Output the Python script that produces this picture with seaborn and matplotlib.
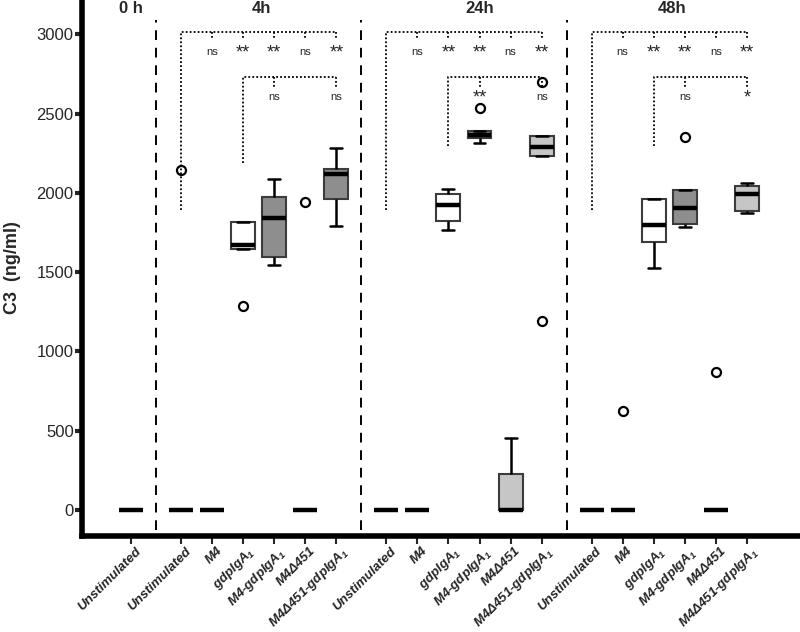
import pandas as pd
import numpy as np
import matplotlib
matplotlib.use('Agg')
import matplotlib.pyplot as plt
import matplotlib.transforms as mtransforms
import seaborn as sns

sns.set_style('white')
plt.rcParams['font.family'] = ['Liberation Sans', 'DejaVu Sans']
plt.rcParams['mathtext.fontset'] = 'custom'
plt.rcParams['mathtext.rm'] = 'Liberation Sans:bold:italic'
plt.rcParams['mathtext.it'] = 'Liberation Sans:bold:italic'
plt.rcParams['mathtext.bf'] = 'Liberation Sans:bold:italic'

#%% data (ng/ml), one list per box
timepoints = ['0 h', '4h', '24h', '48h']
conditions = ['Unstimulated', 'M4', 'gdpIgA$_1$', 'M4-gdpIgA$_1$', 'M4\u0394451', 'M4\u0394451-gdpIgA$_1$']

unstim_0h = [0, 0, 0, 0, 0]

unstim_4h = [0, 0, 0, 0, 2144]
m4_4h = [0, 0, 0, 0, 0]
gdp_4h = [1286, 1644, 1671, 1814, 1814]
m4gdp_4h = [1545, 1593, 1843, 1975, 2087]
d451_4h = [0, 0, 0, 0, 1942]
d451gdp_4h = [1791, 1961, 2121, 2148, 2282]

unstim_24h = [0, 0, 0, 0, 0]
m4_24h = [0, 0, 0, 0, 0]
gdp_24h = [1767, 1820, 1921, 1990, 2026]
m4gdp_24h = [2316, 2345, 2364, 2390, 2533]
d451_24h = [0, 0, 0, 227, 454]
d451gdp_24h = [1192, 2232, 2289, 2360, 2698]

unstim_48h = [0, 0, 0, 0, 0]
m4_48h = [0, 0, 0, 0, 624]
gdp_48h = [1528, 1692, 1797, 1963, 1963]
m4gdp_48h = [1786, 1803, 1904, 2018, 2354]
d451_48h = [0, 0, 0, 0, 872]
d451gdp_48h = [1875, 1887, 1990, 2041, 2060]

boxes = {
    '0 h': [unstim_0h],
    '4h': [unstim_4h, m4_4h, gdp_4h, m4gdp_4h, d451_4h, d451gdp_4h],
    '24h': [unstim_24h, m4_24h, gdp_24h, m4gdp_24h, d451_24h, d451gdp_24h],
    '48h': [unstim_48h, m4_48h, gdp_48h, m4gdp_48h, d451_48h, d451gdp_48h],
}

# significance vs Unstimulated (upper bracket) and vs gdpIgA1 (lower bracket)
sig_upper = {'4h': ['ns', '**', '**', 'ns', '**'],
             '24h': ['ns', '**', '**', 'ns', '**'],
             '48h': ['ns', '**', '**', 'ns', '**']}
sig_lower = {'4h': ['ns', 'ns'], '24h': ['**', 'ns'], '48h': ['ns', '*']}
lower_start = {'4h': 2188, '24h': 2296, '48h': 2296}

WHITE, DARK, LIGHT = '#ffffff', '#8e8e8e', '#c6c6c6'
fills = {'4h': [WHITE, WHITE, WHITE, DARK, LIGHT, DARK],
         '24h': [WHITE, WHITE, WHITE, DARK, LIGHT, LIGHT],
         '48h': [WHITE, WHITE, WHITE, DARK, LIGHT, LIGHT]}

#%% build long table with positions (gap between time points)
gap = 1.6
rows = []
xpos, xlab, palette, group_pos = [], [], {}, {}
start = 0.0
for tp in timepoints:
    group_pos[tp] = []
    for k, vals in enumerate(boxes[tp]):
        p = round(start + k, 2)
        key = f'{tp}|{k}'
        xpos.append(p)
        xlab.append(conditions[k])
        group_pos[tp].append(p)
        palette[key] = WHITE if tp == '0 h' else fills[tp][k]
        for v in vals:
            rows.append({'pos': p, 'C3': v, 'key': key})
    start = start + len(boxes[tp]) - 1 + gap
df = pd.DataFrame(rows)

#%% plot
fig = plt.figure(figsize=(8, 6.32), dpi=100)
ax = fig.add_axes([0.1025, 0.152, 0.8975, 0.848])

sns.boxplot(df, x='pos', y='C3', hue='key', palette=palette, native_scale=True,
            legend=False, width=0.77, saturation=1, ax=ax,
            boxprops={'edgecolor': '#3c3c3c', 'linewidth': 1.5},
            medianprops={'color': 'black', 'linewidth': 3.2},
            whiskerprops={'color': 'black', 'linewidth': 1.8},
            capprops={'color': 'black', 'linewidth': 1.8},
            flierprops={'marker': 'o', 'markersize': 6.5, 'markerfacecolor': 'white',
                        'markeredgecolor': 'black', 'markeredgewidth': 1.6})

# dashed separators between time points
for a, b in [('0 h', '4h'), ('4h', '24h'), ('24h', '48h')]:
    xm = (group_pos[a][-1] + group_pos[b][0]) / 2
    ax.plot([xm, xm], [-126, 3090], ls=(0, (5, 4)), c='black', lw=1.4)

# time point titles
ax.text(group_pos['0 h'][0], 3160, '0 h', ha='center', va='center', fontsize=12, fontweight='bold')
for tp in ['4h', '24h', '48h']:
    gp = group_pos[tp]
    ax.text((gp[0] + gp[-1]) / 2 + (0.5 if tp == '24h' else 0.1), 3160, tp,
            ha='center', va='center', fontsize=12, fontweight='bold')

# significance brackets
dot = (0, (1, 1.2))
for tp in ['4h', '24h', '48h']:
    gp = group_pos[tp]
    # upper: vs unstimulated
    ax.plot([gp[0], gp[0], gp[-1]], [1890, 3012, 3012], ls=dot, c='black', lw=1.3)
    for p, s in zip(gp[1:], sig_upper[tp]):
        ax.plot([p, p], [3012, 2970], ls=dot, c='black', lw=1.3)
        if s == 'ns':
            ax.text(p, 2890, s, ha='center', va='center', fontsize=8)
        else:
            ax.text(p, 2880, s, ha='center', va='center', fontsize=13)
    # lower: vs gdpIgA1
    ax.plot([gp[2], gp[2], gp[-1]], [lower_start[tp], 2728, 2728], ls=dot, c='black', lw=1.3)
    for p, s in zip([gp[3], gp[5]], sig_lower[tp]):
        ax.plot([p, p], [2728, 2665], ls=dot, c='black', lw=1.3)
        if s == 'ns':
            ax.text(p, 2606, s, ha='center', va='center', fontsize=8)
        else:
            ax.text(p, 2600, s, ha='center', va='center', fontsize=13)

ax.set_xlim(-1.575, 21.5)
ax.set_ylim(-164, 3216)
ax.set_yticks(np.arange(0, 3001, 500))
ax.tick_params(axis='y', labelsize=12, length=5, width=3, direction='out', left=True, pad=1)
ax.set_xticks(xpos)
ax.set_xticklabels(xlab, rotation=45, ha='right', va='top', rotation_mode='anchor',
                   fontsize=9.5, fontweight='bold', fontstyle='italic')
ax.tick_params(axis='x', length=6, width=1.5, bottom=True, pad=2)
shift = mtransforms.ScaledTranslation(0.04, 0.02, fig.dpi_scale_trans)
for lbl in ax.get_xticklabels():
    lbl.set_transform(lbl.get_transform() + shift)
ax.set_xlabel('')
ax.set_ylabel('C3  (ng/ml)', fontsize=13, fontweight='bold', labelpad=11)
for side in ['top', 'right']:
    ax.spines[side].set_visible(False)
for side in ['left', 'bottom']:
    ax.spines[side].set_linewidth(4)
    ax.spines[side].set_color('black')

plt.savefig('out.png', dpi=100)
